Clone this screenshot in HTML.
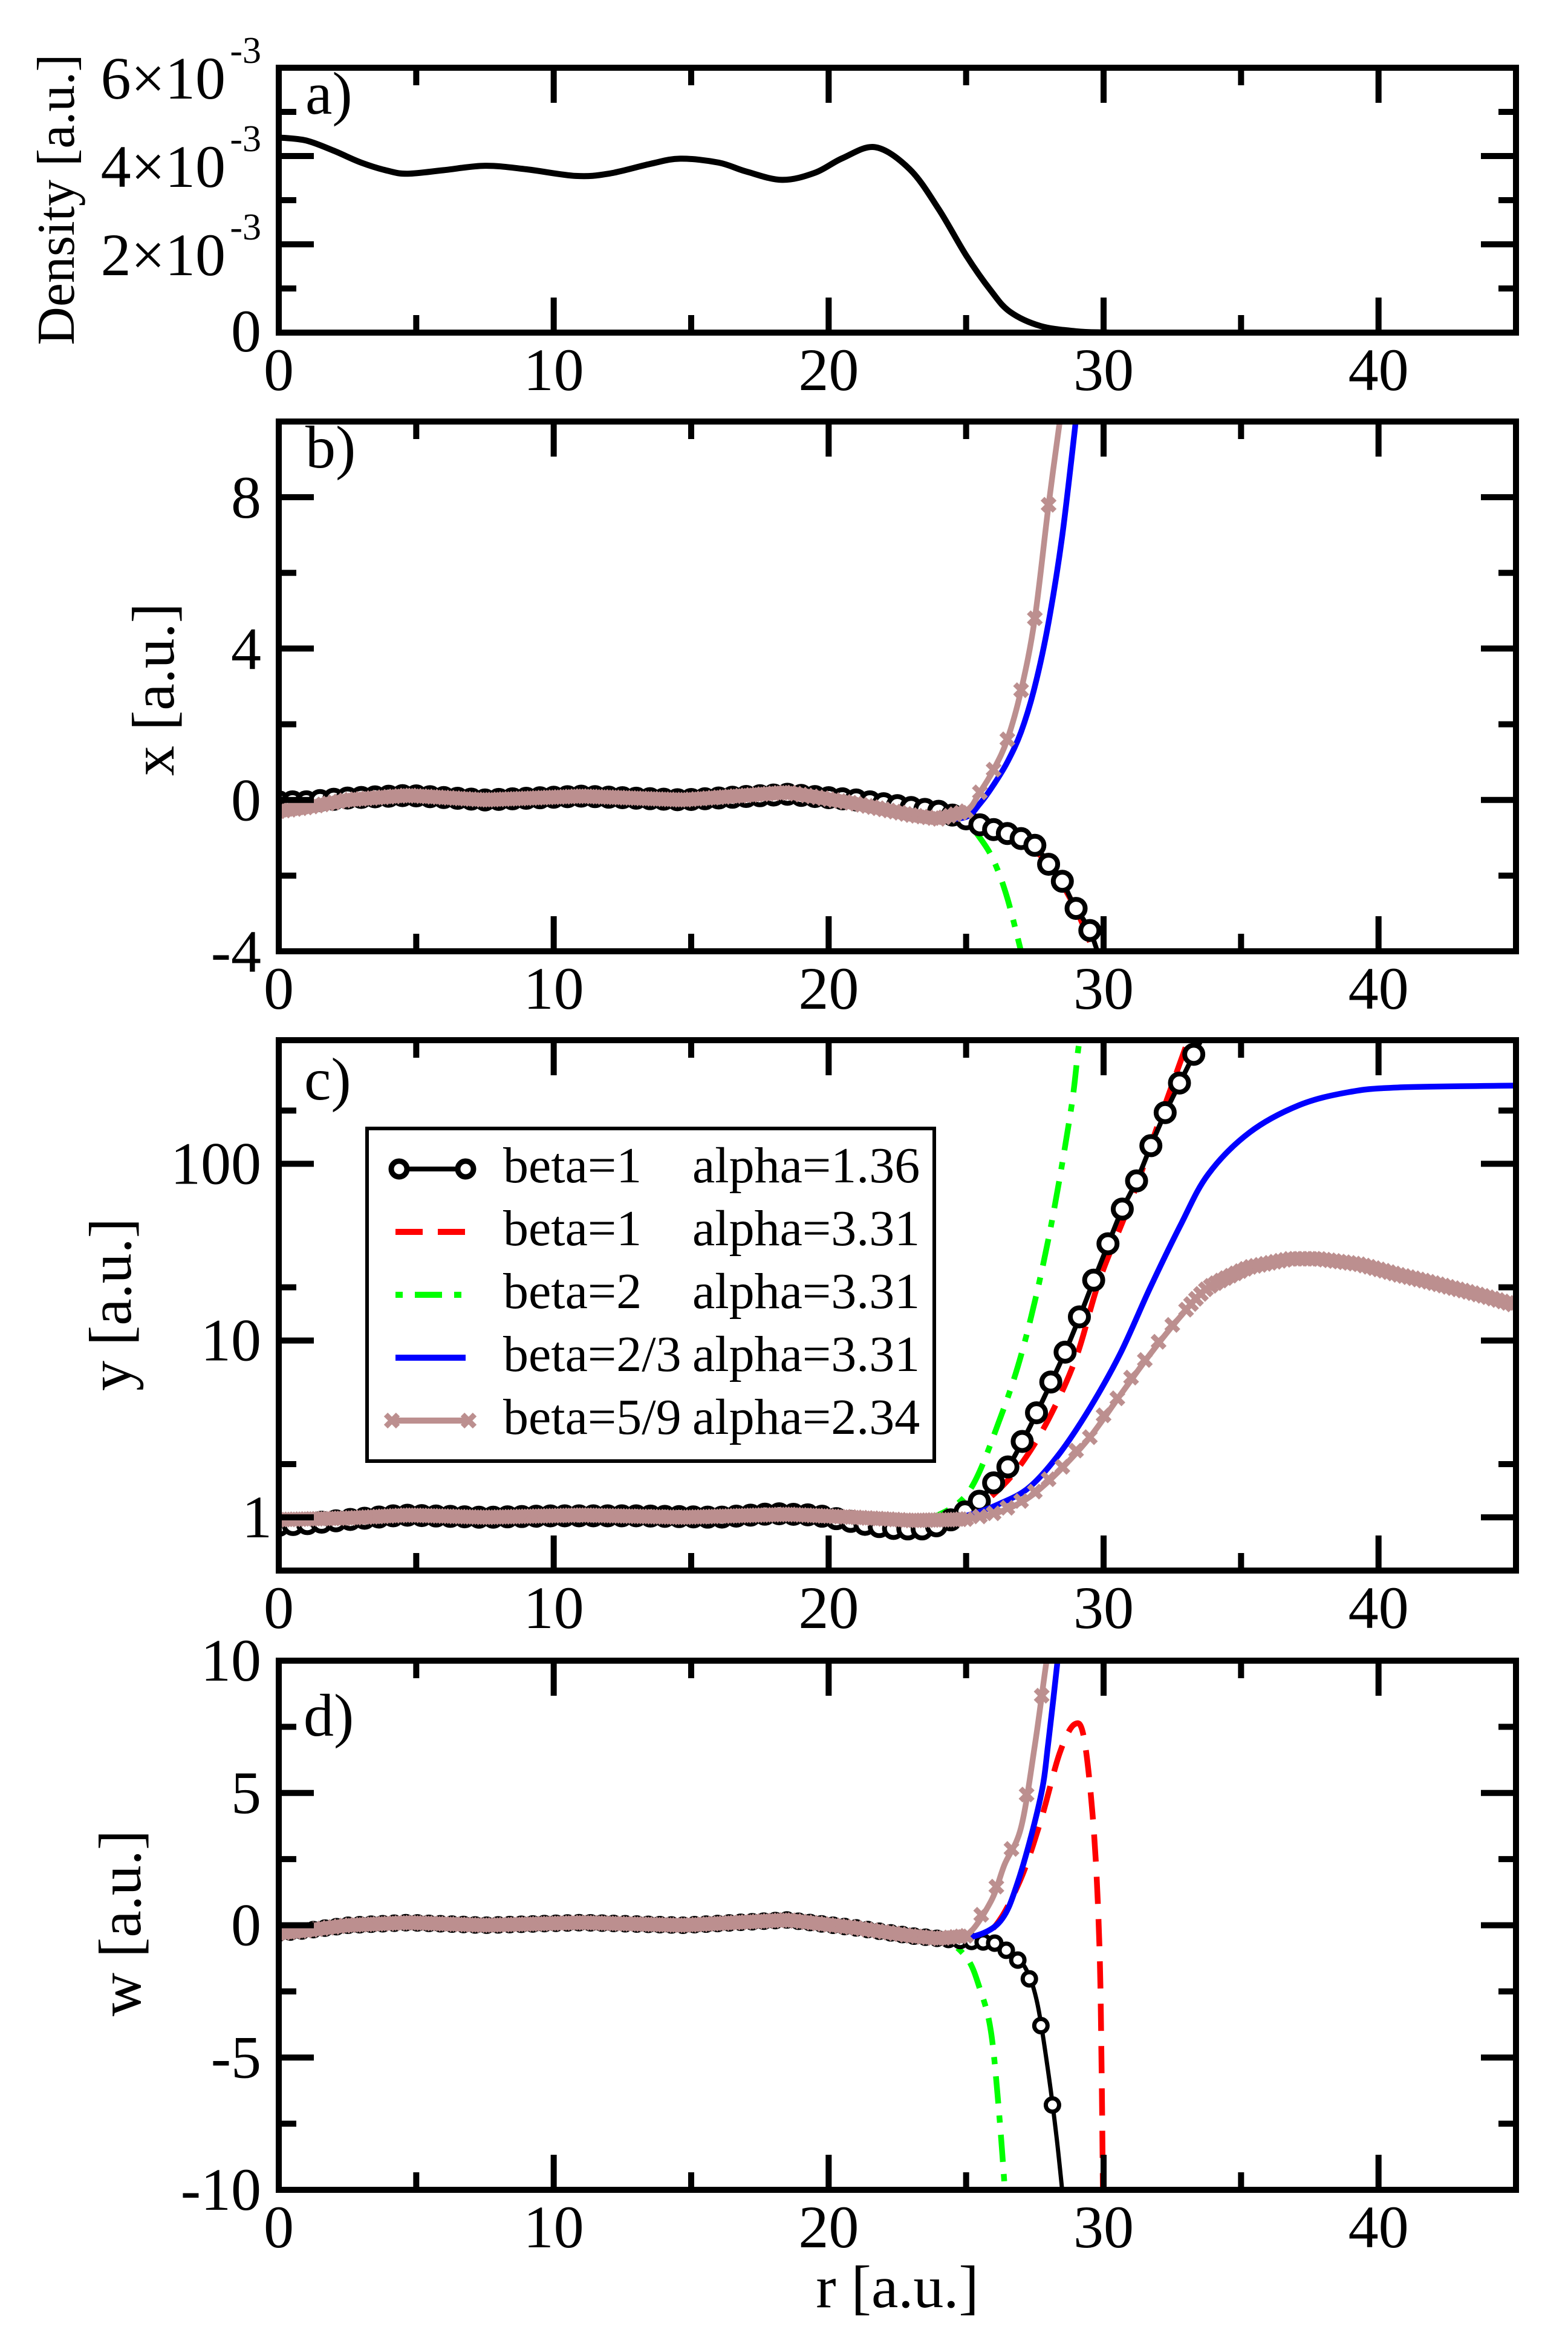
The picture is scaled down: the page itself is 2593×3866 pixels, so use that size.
<!DOCTYPE html>
<html><head><meta charset="utf-8">
<style>
html,body{margin:0;padding:0;background:#fff;}
svg{display:block;font-family:"Liberation Serif",serif;}
</style></head>
<body>
<svg id="fig" width="2593" height="3866" viewBox="0 0 2593 3866" xmlns="http://www.w3.org/2000/svg"></svg>
<script>
// ---------------- DATA ----------------
const aR = [0,1,2,3,4,4.7,6,7.5,9,10.8,12,13.5,14.6,16,17,18.3,19.5,20.5,21.7,22.95,24,25,25.9,26.6,27.7,29,30,32,45];
const aVals = [4.42e-3,4.35e-3,4.12e-3,3.85e-3,3.66e-3,3.6e-3,3.68e-3,3.78e-3,3.7e-3,3.55e-3,3.6e-3,3.82e-3,3.94e-3,3.85e-3,3.65e-3,3.46e-3,3.62e-3,3.95e-3,4.2e-3,3.7e-3,2.8e-3,1.75e-3,0.95e-3,0.47e-3,0.15e-3,0.03e-3,0.005e-3,0,0];

const flatR = [0,1,2.5,4.7,7.5,11,14.7,18.5,21,23,24];

const bBlackR = flatR.concat([25,25.7,26.8,27.5,28,28.5,28.9,29.5,29.9]);
const bBlack = [-0.05,-0.05,0.05,0.12,0.0,0.1,0.0,0.15,0.0,-0.2,-0.3, -0.5,-0.72,-0.95,-1.2,-1.7,-2.15,-2.75,-3.45,-4.3];
const bRedR = flatR.concat([25,26,27,28,29,29.8]);
const bRed = [-0.05,-0.05,0.05,0.1,0.0,0.1,0.0,0.15,0.0,-0.2,-0.3, -0.5,-0.8,-1.1,-1.7,-2.9,-4.3];
const bGreenR = flatR.concat([25,25.5,26,26.5,27.1]);
const bGreen = [-0.1,-0.05,0.05,0.1,0.0,0.1,0.0,0.15,0.0,-0.2,-0.25, -0.6,-1.0,-1.6,-2.6,-4.3];
const bBlueR = flatR.concat([25,25.5,26,26.5,27,27.5,28,28.5,29.05]);
const bBlue = [-0.2,-0.15,0.0,0.1,0.0,0.1,0.0,0.2,-0.1,-0.4,-0.5, -0.45,-0.1,0.4,1.0,1.8,3.0,4.7,7.0,10.4];
const bBrownR = flatR.concat([25,25.5,26,26.5,27,27.5,28,28.5]);
const bBrown = [-0.3,-0.2,0.0,0.12,0.0,0.1,0.0,0.2,-0.1,-0.4,-0.5, -0.3,0.2,0.8,1.6,2.9,4.8,7.8,10.5];

const cBlackR = [0,1,2.5,4.5,7.5,10,13,16,18,19.5,20.5,21.5,22.5,23.5,24.2,24.95,25.5,25.9,26.5,27,27.5,28,28.6,29.1,29.6,30.1,30.65,31.2,31.7,32.2,32.7,33.2,33.6];
const cBlack = [0.9,0.92,0.97,1.03,1.0,1.02,1.02,1.0,1.05,1.03,0.97,0.9,0.86,0.86,0.92,1.07,1.24,1.5,1.9,2.6,3.7,5.4,8.6,13.3,21,33,54,80,124,188,272,390,520];
const cRedR = [0,2.5,4.7,7.5,11,14.7,18.5,21,23,24,25,26,27,28,29,29.85,31,32,32.9,33.2];
const cRed = [0.95,0.98,1.02,1.0,1.02,1.0,1.04,0.98,0.95,1.0,1.05,1.35,2.0,3.6,8,22,62,170,420,560];
const cGreenR = [0,2.5,4.7,7.5,11,14.7,18.5,21,23,23.8,25.1,26.2,27.1,28,28.8,29.1,29.3];
const cGreen = [0.95,0.98,1.02,1.0,1.02,1.0,1.04,0.98,0.97,1.0,1.4,3.5,9.4,38,195,470,620];
const cBlueR = [0,2.5,4.7,7.5,11,14.7,18.5,21,23,24.5,25.1,26.2,27.3,28.4,29.5,30.6,31.7,32.8,33.8,35.3,37.1,38.9,40.7,45];
const cBlue = [0.97,0.99,1.02,1.0,1.02,1.0,1.03,1.0,0.97,1.0,1.03,1.19,1.48,2.3,4.15,8.4,20,45,87,150,214,254,270,277];
const cBrownR = [0,2.5,4.7,7.5,11,14.7,18.5,21,23,24.5,25.1,26.2,27.3,28.4,29.5,30.6,31.7,32.8,33.8,35.3,36.8,37.8,39.3,40.7,42.6,45];
const cBrown = [0.97,0.99,1.03,1.0,1.03,1.0,1.04,1.0,0.96,0.97,0.98,1.07,1.3,1.84,2.84,4.9,8.4,13.7,20,26,29,29,27,23.6,20,15.8];

const dBlackR = flatR.concat([25,26,26.7,27.2,27.6,28,28.3,28.55]);
const dBlack = [-0.3,-0.2,0.0,0.1,0.0,0.1,0.0,0.2,-0.1,-0.4,-0.5, -0.6,-0.65,-1.1,-1.7,-3.0,-5.65,-8.1,-10.6];
const dRedR = flatR.concat([25,26,26.95,27.7,28.4,28.95,29.3,29.65,29.85,29.93,29.98]);
const dRed = [-0.3,-0.2,0.0,0.1,0.0,0.1,0.0,0.2,-0.1,-0.4,-0.5, -0.55,-0.1,1.66,3.9,6.5,7.6,7.0,3.5,-0.85,-5.6,-10.6];
const dGreenR = flatR.concat([25,25.5,25.9,26.2,26.45]);
const dGreen = [-0.3,-0.2,0.0,0.1,0.0,0.1,0.0,0.2,-0.1,-0.4,-0.4, -1.2,-2.4,-4.0,-7.1,-10.6];
const dBlueR = flatR.concat([25,26.2,26.9,27.7,28.0,28.38]);
const dBlue = [-0.3,-0.2,0.0,0.1,0.0,0.1,0.0,0.2,-0.1,-0.4,-0.5, -0.5,0.1,1.7,4.8,7.0,10.5];
const dBrownR = flatR.concat([25,25.9,26.4,27.0,27.5,27.9,28.05]);
const dBrown = [-0.3,-0.2,0.0,0.1,0.0,0.1,0.0,0.2,-0.1,-0.4,-0.5, -0.4,0.9,2.3,3.7,6.8,9.8,10.6];

const xTicks = [0,10,20,30,40];
const aYTicks = ['0','2','4','6'];
const bYTicks = ['-4','0','4','8'];
const cYTicks = ['1','10','100'];
const dYTicks = ['-10','-5','0','5','10'];
const legendBeta = ['beta=1','beta=1','beta=2','beta=2/3','beta=5/9'];
const legendAlpha = ['alpha=1.36','alpha=3.31','alpha=3.31','alpha=3.31','alpha=2.34'];

// ---------------- DRAWING ----------------
const NS='http://www.w3.org/2000/svg';
const svg=document.getElementById('fig');
const L=461, R=2507;
const COL={black:'#000',red:'#ff0000',green:'#00ff00',blue:'#0000ff',brown:'#bc8f8f'};
function mk(tag,attrs,parent){const e=document.createElementNS(NS,tag);for(const k in attrs)e.setAttribute(k,attrs[k]);(parent||svg).appendChild(e);return e;}
function xs(r){return L+(r/45)*(R-L);}
function smoothPath(pts){
  let d='M'+pts[0][0].toFixed(1)+','+pts[0][1].toFixed(1);
  for(let i=0;i<pts.length-1;i++){
    const p0=pts[Math.max(0,i-1)],p1=pts[i],p2=pts[i+1],p3=pts[Math.min(pts.length-1,i+2)];
    const c1=[p1[0]+(p2[0]-p0[0])/6,p1[1]+(p2[1]-p0[1])/6];
    const c2=[p2[0]-(p3[0]-p1[0])/6,p2[1]-(p3[1]-p1[1])/6];
    d+='C'+c1[0].toFixed(1)+','+c1[1].toFixed(1)+' '+c2[0].toFixed(1)+','+c2[1].toFixed(1)+' '+p2[0].toFixed(1)+','+p2[1].toFixed(1);
  }
  return d;
}
function interp(rs,vs,r){
  for(let i=0;i<rs.length-1;i++){if(r>=rs[i]&&r<=rs[i+1]){const t=(r-rs[i])/(rs[i+1]-rs[i]);return vs[i]+t*(vs[i+1]-vs[i]);}}
  return null;
}
function text(str,x,y,size,anchor,parent){const t=mk('text',{x:x,y:y,'font-size':size,'text-anchor':anchor||'middle',fill:'#000'},parent);t.textContent=str;return t;}

function panel(id,top,bot,ys){
  const g=mk('g',{});
  
  
  const cp=mk('clipPath',{id:'clip-'+id},g);
  mk('rect',{x:L,y:top,width:R-L,height:bot-top},cp);
  const plot=mk('g',{'clip-path':'url(#clip-'+id+')'},g);
  
  
  return {g,plot,top,bot,ys};
}
function frame(P,yMajor,yMinor){
  const g=P.g;
  for(let r=0;r<=45;r+=5){
    const x=xs(r), len=(r%10===0)?58:29;
    if(r>0&&r<45){
      const t1=mk('line',{x1:x,y1:P.bot,x2:x,y2:P.bot-len,stroke:'#000','stroke-width':10},g);
      
      
      mk('line',{x1:x,y1:P.top,x2:x,y2:P.top+len,stroke:'#000','stroke-width':10},g);
    }
  }
  yMajor.forEach(v=>{const y=P.ys(v);
    const t=mk('line',{x1:L,y1:y,x2:L+58,y2:y,stroke:'#000','stroke-width':10},g);
    
    
    mk('line',{x1:R,y1:y,x2:R-58,y2:y,stroke:'#000','stroke-width':10},g);});
  yMinor.forEach(v=>{const y=P.ys(v);
    mk('line',{x1:L,y1:y,x2:L+29,y2:y,stroke:'#000','stroke-width':10},g);
    mk('line',{x1:R,y1:y,x2:R-29,y2:y,stroke:'#000','stroke-width':10},g);});
  const fr=mk('rect',{x:L,y:P.top,width:R-L,height:P.bot-P.top,fill:'none',stroke:'#000','stroke-width':10},g);
  
  
  xTicks.forEach(v=>{
    const t=text(String(v),xs(v),P.bot+95,100,'middle',g);
    
    
  });
}
function series(P,rs,vs,color,name,opts){
  opts=opts||{};
  const pts=rs.map((r,i)=>[xs(r),P.ys(vs[i])]);
  const p=mk('path',{d:smoothPath(pts),fill:'none',stroke:color,'stroke-width':opts.w||9.5,'stroke-linejoin':'round'},P.plot);
  if(opts.dash)p.setAttribute('stroke-dasharray',opts.dash);
  
  
  if(opts.marker){
    opts.markerR.forEach(r=>{
      const v=interp(rs,vs,r); if(v===null)return;
      const x=xs(r),y=P.ys(v);
      if(opts.marker==='circle'){
        const c=mk('circle',{cx:x,cy:y,r:opts.ms||13,fill:'#fff',stroke:color,'stroke-width':opts.mw||7},P.plot);
        
        
      } else {
        const s=opts.ms||11;
        const c=mk('path',{d:`M${x-s},${y-s}L${x+s},${y+s}M${x-s},${y+s}L${x+s},${y-s}`,stroke:color,'stroke-width':9},P.plot);
        
        
      }
    });
  }
}
function grid(a,b,s){const o=[];for(let r=a;r<=b+1e-9;r+=s)o.push(+r.toFixed(3));return o;}
function vlabel(str,x,y,size,name){
  const t=mk('text',{x:0,y:0,'font-size':size,'text-anchor':'middle',transform:`translate(${x},${y}) rotate(-90)`,fill:'#000'});
  t.textContent=str;
  
  
}

// ----- panel a
const A=panel('a',112,550,v=>550-(v/6e-3)*(550-112));
series(A,aR,aVals,'#000','density-curve',{w:10});
frame(A,[0,2e-3,4e-3,6e-3],[1e-3,3e-3,5e-3]);
aYTicks.forEach((s,i)=>{
  const y=A.ys(i*2e-3);
  if(s==='0'){const t=text('0',432,y+31,100,'end');return;}
  const t=mk('text',{x:373,y:y+51,'font-size':100,'text-anchor':'end',fill:'#000'});
  t.textContent=s+'\u00d710';
  
  
  text('-3',432,y-8,62,'end');
});
vlabel('Density [a.u.]',122,330,88,'y-axis-title-density');
text('a)',505,188,100,'start');

// ----- panel b
const B=panel('b',697,1573,v=>1573-((v+4)/14)*(1573-697));
const markB=grid(0,30,0.5);
series(B,bGreenR,bGreen,COL.green,'series-beta2',{dash:'45 20 12 20'});
series(B,bRedR,bRed,COL.red,'series-beta1-a331',{dash:'45 25'});
series(B,bBlackR,bBlack,COL.black,'series-beta1-a136',{w:8,marker:'circle',markerR:markB,ms:15,mw:8});
series(B,bBlueR,bBlue,COL.blue,'series-beta23');
series(B,bBrownR,bBrown,COL.brown,'series-beta59',{marker:'x',markerR:grid(0,24.8,0.2).concat(grid(25,29,0.5)),ms:10});
frame(B,[-4,0,4,8],[-2,2,6,10]);
bYTicks.forEach(s=>{const t=text(s,432,B.ys(+s)+34,100,'end');});
vlabel('x [a.u.]',287,1140,100,'y-axis-title-x');
text('b)',505,773,100,'start');

// ----- panel c (log)
const cTop=1720,cBot=2597,lmin=Math.log10(0.5),lmax=Math.log10(500);
const C=panel('c',cTop,cBot,v=>cBot-((Math.log10(v)-lmin)/(lmax-lmin))*(cBot-cTop));
series(C,cGreenR,cGreen,COL.green,'series-beta2',{dash:'45 20 12 20'});
series(C,cRedR,cRed,COL.red,'series-beta1-a331',{dash:'45 25'});
series(C,cBlackR,cBlack,COL.black,'series-beta1-a136',{w:8,marker:'circle',markerR:grid(0,33.6,0.52),ms:15,mw:8});
series(C,cBlueR,cBlue,COL.blue,'series-beta23');
series(C,cBrownR,cBrown,COL.brown,'series-beta59',{marker:'x',markerR:grid(0,24.8,0.2).concat(grid(25,32.5,0.5)).concat(grid(33,45,0.18)),ms:10});
frame(C,[1,10,100],[2,20,200]);
cYTicks.forEach(s=>{const t=text(s,s==='1'?450:432,C.ys(+s)+33,100,'end');});
vlabel('y [a.u.]',216,2157,100,'y-axis-title-y');
text('c)',503,1818,100,'start');

// legend
const lg=mk('g',{});


mk('rect',{x:607,y:1866,width:938,height:550,fill:'#fff',stroke:'#000','stroke-width':6},lg);
const rowY=[1933,2037,2141,2245,2349];
const legCol=[COL.black,COL.red,COL.green,COL.blue,COL.brown];
legendBeta.forEach((b,i)=>{
  const y=rowY[i];
  const e=mk('g',{},lg);
  
  
  const ln=mk('line',{x1:654,y1:y,x2:770,y2:y,stroke:legCol[i],'stroke-width':i===0?8:10},e);
  if(i===1)ln.setAttribute('stroke-dasharray','45 25');
  if(i===2)ln.setAttribute('stroke-dasharray','12 20 45 20 12 40');
  if(i===0){mk('circle',{cx:660,cy:y,r:13,fill:'#fff',stroke:'#000','stroke-width':9},e);mk('circle',{cx:770,cy:y,r:13,fill:'#fff',stroke:'#000','stroke-width':9},e);}
  if(i===4){[648,775].forEach(x=>mk('path',{d:`M${x-10},${y-10}L${x+10},${y+10}M${x-10},${y+10}L${x+10},${y-10}`,stroke:COL.brown,'stroke-width':9},e));}
  text(b,832,y+22,84,'start',e);
  text(legendAlpha[i],1145,y+22,84,'start',e);
});

// ----- panel d
const D=panel('d',2746,3621,v=>3621-((v+10)/20)*(3621-2746));
series(D,dGreenR,dGreen,COL.green,'series-beta2',{dash:'45 20 12 20'});
series(D,dRedR,dRed,COL.red,'series-beta1-a331',{dash:'45 25'});
series(D,dBlackR,dBlack,COL.black,'series-beta1-a136',{w:7,marker:'circle',markerR:grid(0,28.2,0.42),ms:11,mw:7});
series(D,dBlueR,dBlue,COL.blue,'series-beta23');
series(D,dBrownR,dBrown,COL.brown,'series-beta59',{marker:'x',markerR:grid(0,24.8,0.2).concat(grid(25,28,0.55)),ms:10});
frame(D,[-10,-5,0,5,10],[-7.5,-2.5,2.5,7.5]);
dYTicks.forEach(s=>{const t=text(s,432,D.ys(+s)+33,100,'end');});
vlabel('w [a.u.]',232,3180,100,'y-axis-title-w');
text('d)',502,2870,100,'start');
const xt=text('r [a.u.]',1484,3815,100,'middle');


</script>
</body></html>
